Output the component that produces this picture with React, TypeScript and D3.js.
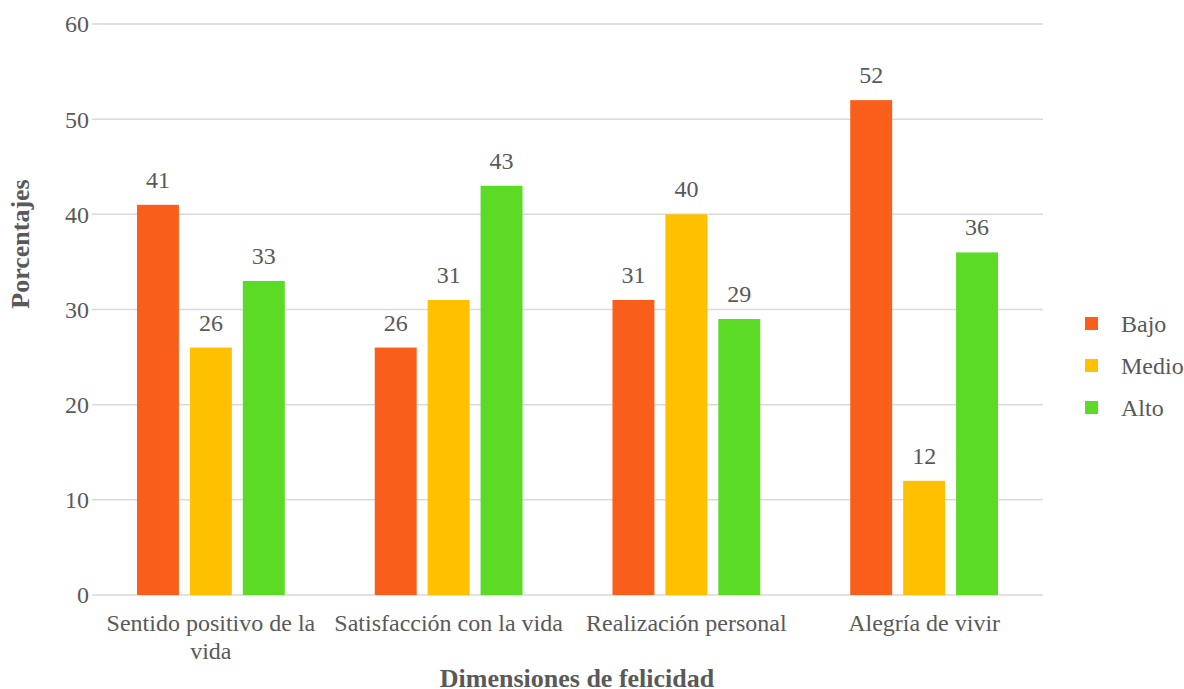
import * as d3 from 'd3';

const categories = ['Sentido positivo de la vida', 'Satisfacción con la vida', 'Realización personal', 'Alegría de vivir'];
const seriesNames = ['Bajo', 'Medio', 'Alto'];
const bajo = [41, 26, 31, 52];
const medio = [26, 31, 40, 12];
const alto = [33, 43, 29, 36];
const colors = ['#F95E1A', '#FFC000', '#5BDB26'];
const yTicks = [0, 10, 20, 30, 40, 50, 60];

const W = 1184;
const H = 689;
const left = 92;
const right = 1043;
const top = 24;
const bottom = 595;
const textColor = '#595959';
const txt = { fontFamily: "'Liberation Serif'" };

export default function App() {
  const values = [bajo, medio, alto];
  const x0 = d3.scaleBand<string>().domain(categories).range([left, right]).paddingInner(0).paddingOuter(0);
  const x1 = d3.scaleBand<string>().domain(seriesNames).range([0, x0.bandwidth()]).paddingInner(0.2075).paddingOuter(0.85);
  const y = d3.scaleLinear().domain([0, 60]).range([bottom, top]);

  // the first category label wraps onto two lines in the reference
  const wrapLabel = (s: string) => (s === 'Sentido positivo de la vida' ? ['Sentido positivo de la', 'vida'] : [s]);

  return (
    <svg width={W} height={H} style={{ position: 'absolute', left: 0, top: 0, background: '#fff' }}>
      {yTicks.map(t => (
        <g key={t}>
          <line x1={left} x2={right} y1={y(t)} y2={y(t)} stroke="#d9d9d9" strokeWidth={1.5} />
          <text x={left - 3} y={y(t)} dy="0.35em" textAnchor="end" fontSize={24} fill={textColor} style={txt}>{t}</text>
        </g>
      ))}
      {categories.map((c, ci) => (
        <g key={c} transform={`translate(${x0(c)},0)`}>
          {seriesNames.map((s, si) => {
            const v = values[si][ci];
            const bx = x1(s)!;
            return (
              <g key={s}>
                <rect x={bx} y={y(v)} width={x1.bandwidth()} height={y(0) - y(v)} fill={colors[si]} />
                <text x={bx + x1.bandwidth() / 2} y={y(v) - 17} textAnchor="middle" fontSize={24} fill={textColor} style={txt}>{v}</text>
              </g>
            );
          })}
          {wrapLabel(c).map((line, li) => (
            <text key={li} x={x0.bandwidth() / 2} y={631 + li * 28} textAnchor="middle" fontSize={24} fill={textColor} style={txt}>{line}</text>
          ))}
        </g>
      ))}
      <text x={577} y={687} textAnchor="middle" fontSize={26} fontWeight="bold" fill={textColor} style={txt}>Dimensiones de felicidad</text>
      <text transform="translate(29,244) rotate(-90)" textAnchor="middle" fontSize={26} fontWeight="bold" fill={textColor} style={txt}>Porcentajes</text>
      {seriesNames.map((s, i) => (
        <g key={s} transform={`translate(1085,${323.5 + i * 42})`}>
          <rect x={0} y={-6.5} width={13} height={13} fill={colors[i]} />
          <text x={36} y={0} dy="0.35em" fontSize={24} fill={textColor} style={txt}>{s}</text>
        </g>
      ))}
    </svg>
  );
}
